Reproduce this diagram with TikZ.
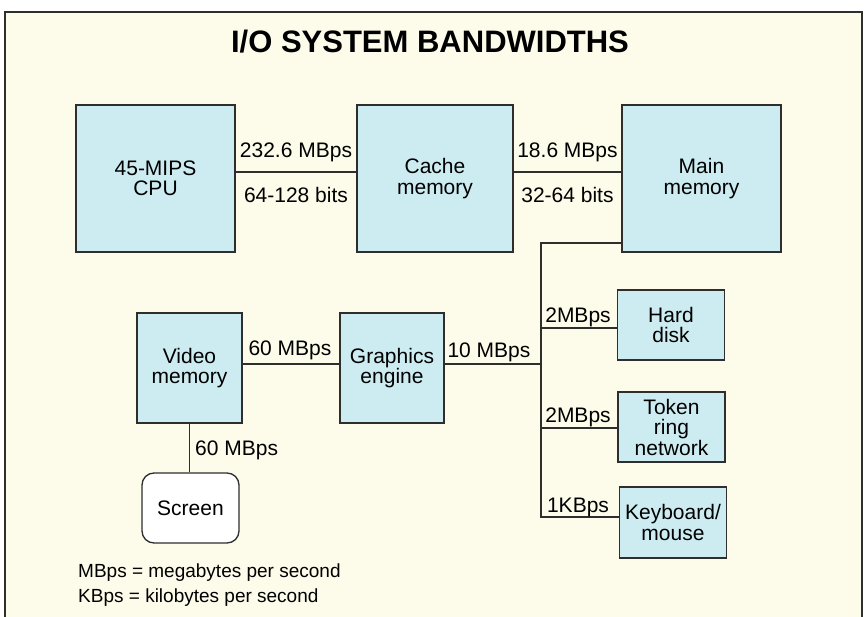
\documentclass[tikz,border=0pt]{standalone}
\usepackage{fontspec}
\setmainfont{Liberation Sans}
\definecolor{cream}{HTML}{FDFBEA}
\definecolor{boxc}{HTML}{CDECF1}
\definecolor{linec}{HTML}{2E2E2E}
\newcommand{\labfont}{\fontsize{21}{20.5}\selectfont}
\newcommand{\legfont}{\fontsize{19}{20}\selectfont}
\newcommand{\ttlfont}{\fontsize{31}{31}\selectfont\bfseries}
\begin{document}
\begin{tikzpicture}[x=1pt,y=-1pt,
  box/.style={draw=linec, fill=boxc, line width=1.3pt, align=center, font=\labfont, inner sep=0pt,
    execute at begin node={\rule{0pt}{23pt}}},
  rbox/.style={draw=linec, fill=white, line width=1.3pt, rounded corners=12pt, align=center, font=\labfont, inner sep=0pt},
  conn/.style={draw=linec, line width=1.2pt},
  lab/.style={font=\labfont, text=black, inner sep=0pt, anchor=base},
  leg/.style={font=\legfont, text=black, inner sep=0pt, anchor=base west}]
\useasboundingbox (0,0) rectangle (868,617);
\fill[white] (0,0) rectangle (868,617);
\fill[cream] (5,12) rectangle (862,617);
\draw[linec, line width=1.4pt] (5,617) -- (5,12) -- (862,12) -- (862,617);

\node[inner sep=0pt, anchor=base, font=\ttlfont] (title) at (430,53) {I/O SYSTEM BANDWIDTHS};

% top row
\node[box, minimum width=159pt, minimum height=147pt] (cpu) at (155.5,178.5) {45-MIPS\\CPU};
\node[box, minimum width=156pt, minimum height=147pt] (cache) at (435,178.5) {Cache\\memory};
\node[box, minimum width=159pt, minimum height=147pt] (main) at (701.5,178.5) {Main\\memory};

% middle row
\node[box, minimum width=105pt, minimum height=110pt] (video) at (189.5,368) {Video\\memory};
\node[box, minimum width=104pt, minimum height=110pt] (gfx) at (392,368) {Graphics\\engine};
\node[rbox, minimum width=97pt, minimum height=70pt] (screen) at (190.5,508) {Screen};

% right column
\node[box, minimum width=107pt, minimum height=70pt] (disk) at (671,325) {Hard\\disk};
\node[box, minimum width=107pt, minimum height=70pt] (token) at (671.5,427) {Token\\ring\\network};
\node[box, minimum width=107pt, minimum height=71pt, execute at begin node={}] (kbd) at (673,522.5) {Keyboard/\\mouse};

% bus coordinates
\coordinate (bustop) at (541,243);
\coordinate (busbot) at (541,517);
\coordinate (jgfx) at (541,364);
\coordinate (jdisk) at (541,328);
\coordinate (jtoken) at (541,428);

% connectors
\draw[conn] ([yshift=6.5pt]cpu.east) -- ([yshift=6.5pt]cache.west);
\draw[conn] ([yshift=6.5pt]cache.east) -- ([yshift=6.5pt]main.west);
\draw[conn] ([yshift=-64.5pt]main.west) -- (bustop) -- (busbot) -- ([yshift=5.5pt]kbd.west);
\draw[conn] ([yshift=4pt]video.east) -- ([yshift=4pt]gfx.west);
\draw[conn] ([yshift=4pt]gfx.east) -- (jgfx);
\draw[conn] (jdisk) -- ([yshift=-3pt]disk.west);
\draw[conn] (jtoken) -- ([yshift=-1pt]token.west);
\draw[conn] (video.south) -- (video.south |- screen.north);

% labels
\node[lab] (l1) at (296,158) {232.6 MBps};
\node[lab] (l2) at (296,203) {64-128 bits};
\node[lab] (l3) at (567.5,158) {18.6 MBps};
\node[lab] (l4) at (567.5,203) {32-64 bits};
\node[lab] (l5) at (290,356) {60 MBps};
\node[lab] (l6) at (489,358) {10 MBps};
\node[lab, anchor=base west] (l7) at (195,456) {60 MBps};
\node[lab] (l8) at (578,323) {2MBps};
\node[lab] (l9) at (578,423) {2MBps};
\node[lab] (l10) at (578,512) {1KBps};

% legend
\node[leg] (leg1) at (78,577) {MBps = megabytes per second};
\node[leg] (leg2) at (78,602) {KBps = kilobytes per second};
\end{tikzpicture}
\end{document}
